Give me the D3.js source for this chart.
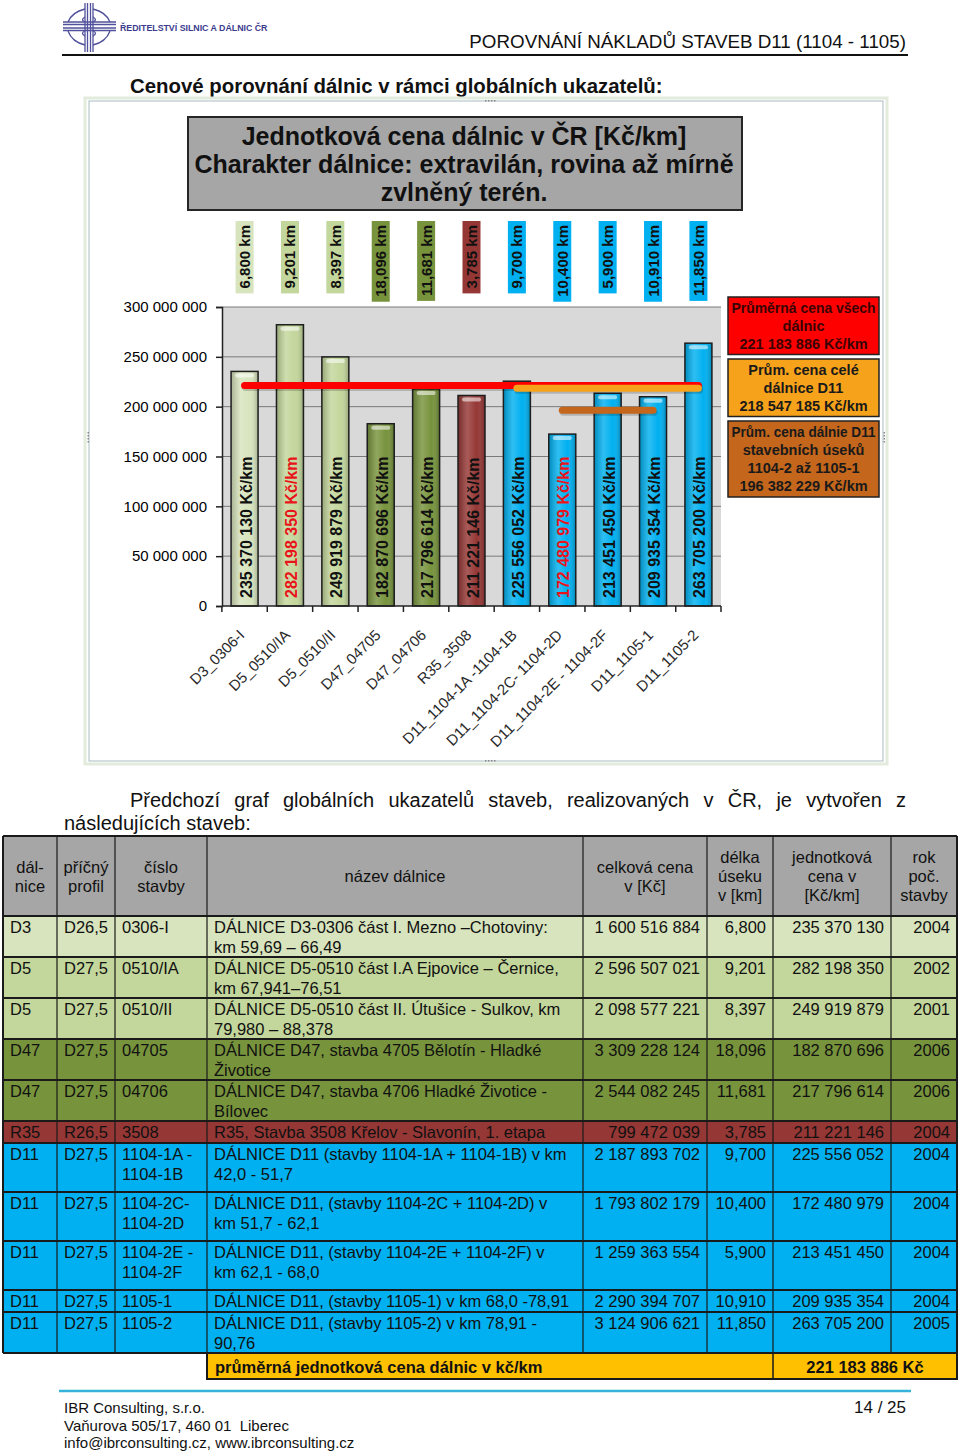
<!DOCTYPE html>
<html>
<head>
<meta charset="utf-8">
<script src="https://cdn.jsdelivr.net/npm/d3@7"></script>
<style>
body{margin:0;background:#fff}
svg{display:block;font-family:"Liberation Sans",Arial,sans-serif}
</style>
</head>
<body>
<script>
// --- chart data ---
var categories = ["D3_0306-I","D5_0510/IA","D5_0510/II","D47_04705","D47_04706","R35_3508",
  "D11_1104-1A -1104-1B","D11_1104-2C- 1104-2D","D11_1104-2E - 1104-2F","D11_1105-1","D11_1105-2"];
var unitPrices = [235370130,282198350,249919879,182870696,217796614,211221146,225556052,172480979,213451450,209935354,263705200];
var lengthsKm = [6.800,9.201,8.397,18.096,11.681,3.785,9.700,10.400,5.900,10.910,11.850];
var yTicks = [0,50000000,100000000,150000000,200000000,250000000,300000000];

var avgValues = [221183886,218547185,196382229];
var avgFrom = [0,6,7];
var avgTo = [10,10,9];
var avgLabels = [["Průměrná cena všech","dálnic"],["Prům. cena  celé","dálnice D11"],
  ["Prům. cena dálnie D11","stavebních úseků","1104-2 až 1105-1"]];

// --- table data ---
var roads = ["D3","D5","D5","D47","D47","R35","D11","D11","D11","D11","D11"];
var profiles = ["D26,5","D27,5","D27,5","D27,5","D27,5","R26,5","D27,5","D27,5","D27,5","D27,5","D27,5"];
var codes = ["0306-I","0510/IA","0510/II","04705","04706","3508","1104-1A -\n1104-1B","1104-2C-\n1104-2D","1104-2E -\n1104-2F","1105-1","1105-2"];
var names = ["DÁLNICE D3-0306 část I. Mezno –Chotoviny:\nkm 59,69 – 66,49",
  "DÁLNICE D5-0510 část I.A Ejpovice – Černice,\nkm 67,941–76,51",
  "DÁLNICE D5-0510 část II. Útušice - Sulkov, km\n79,980 – 88,378",
  "DÁLNICE D47, stavba 4705 Bělotín - Hladké\nŽivotice",
  "DÁLNICE D47, stavba 4706 Hladké Životice -\nBílovec",
  "R35, Stavba 3508 Křelov - Slavonín, 1. etapa",
  "DÁLNICE D11 (stavby 1104-1A + 1104-1B) v km\n42,0 - 51,7",
  "DÁLNICE D11, (stavby 1104-2C + 1104-2D) v\nkm 51,7 - 62,1",
  "DÁLNICE D11, (stavby 1104-2E + 1104-2F) v\nkm 62,1 - 68,0",
  "DÁLNICE D11, (stavby 1105-1) v km 68,0 -78,91",
  "DÁLNICE D11, (stavby 1105-2) v km 78,91 -\n90,76"];
var totalPrices = [1600516884,2596507021,2098577221,3309228124,2544082245,799472039,2187893702,1793802179,1259363554,2290394707,3124906621];
var years = [2004,2002,2001,2006,2006,2004,2004,2004,2004,2004,2005];
var headers = ["dál-\nnice","příčný\nprofil","číslo\nstavby","název dálnice","celková cena\nv [Kč]","délka\núseku\nv [km]","jednotková\ncena v\n[Kč/km]","rok\npoč.\nstavby"];

var roadColor = {D3:"#d7e4bd", D5:"#c3d69b", D47:"#77933c", R35:"#953735", D11:"#00b0f0"};
var avgColor = ["#ff0000","#f7a21b","#c4661c"];

var fmt = function(v){ return d3.format(",")(v).replace(/,/g," "); };
var fmtKm = function(v){ return d3.format(".3f")(v).replace(".",","); };

var svg = d3.select("body").append("svg").attr("width",960).attr("height",1452);
svg.append("rect").attr("width",960).attr("height",1452).attr("fill","#fff");

// --- page header ---
var logo = svg.append("g").attr("stroke","#50509c").attr("fill","none").attr("stroke-width",1.3);
[85,87.5,90.5,93].forEach(function(v){ logo.append("line").attr("x1",v).attr("x2",v).attr("y1",3).attr("y2",52); });
[22,24.5,28,30.5].forEach(function(v){ logo.append("line").attr("x1",63).attr("x2",116).attr("y1",v).attr("y2",v); });
logo.append("path").attr("d","M85,9 Q72,12 68,22 M93,9 Q106,12 110,22 M85,45 Q72,42 68,31 M93,45 Q106,42 110,31");
logo.append("path").attr("d","M85,17 Q80,20 85,22 M93,17 Q98,20 93,22 M85,36 Q80,33 85,31 M93,36 Q98,33 93,31");
svg.append("text").attr("x",120).attr("y",31).attr("font-size",8.8).attr("font-weight","bold")
  .attr("fill","#3b3b8e").text("ŘEDITELSTVÍ SILNIC A DÁLNIC ČR");
svg.append("text").attr("x",906).attr("y",48).attr("text-anchor","end").attr("font-size",18.8)
  .attr("fill","#111").text("POROVNÁNÍ NÁKLADŮ STAVEB D11 (1104 - 1105)");
svg.append("line").attr("x1",62).attr("x2",908).attr("y1",55).attr("y2",55).attr("stroke","#111").attr("stroke-width",2);
svg.append("text").attr("x",130).attr("y",93).attr("font-size",20.4).attr("font-weight","bold")
  .attr("fill","#111").text("Cenové porovnání dálnic v rámci globálních ukazatelů:");

// --- chart frame ---
svg.append("rect").attr("x",85).attr("y",98).attr("width",802).attr("height",666)
  .attr("fill","none").attr("stroke","#e2ebdc").attr("stroke-width",3);
svg.append("rect").attr("x",89).attr("y",101).attr("width",794).attr("height",660)
  .attr("fill","none").attr("stroke","#a9bcc2").attr("stroke-width",1);
[[485,101,1],[485,761,1],[884,432,0],[88,432,0]].forEach(function(p){
  for(var k=0;k<4;k++){
    svg.append("rect").attr("x",p[2]?p[0]+k*3:p[0]-0.5).attr("y",p[2]?p[1]-1:p[1]+k*3)
      .attr("width",1.5).attr("height",1.5).attr("fill","#888");
  }
});

// --- chart title box ---
svg.append("rect").attr("x",188).attr("y",117).attr("width",554).attr("height",93)
  .attr("fill","#a6a6a6").attr("stroke","#262626").attr("stroke-width",2);
var titleLines = ["Jednotková cena dálnic v ČR [Kč/km]","Charakter dálnice: extravilán, rovina až mírně","zvlněný terén."];
titleLines.forEach(function(t,i){
  svg.append("text").attr("x",464).attr("y",145+i*28).attr("text-anchor","middle")
    .attr("font-size",25).attr("font-weight","bold").attr("fill","#111").text(t);
});

// --- scales ---
var x = d3.scaleBand().domain(categories).range([222,721]).paddingInner(0.405).paddingOuter(0.2);
var y = d3.scaleLinear().domain([0,300000000]).range([606,307]);
var cx = function(i){ return x(categories[i]) + x.bandwidth()/2; };

// plot background + grid
svg.append("rect").attr("x",222).attr("y",y(300000000)).attr("width",499).attr("height",y(0)-y(300000000)).attr("fill","#d9d9d9");
svg.append("g").selectAll("line").data(yTicks.filter(function(d){return d>0;})).join("line")
  .attr("x1",222).attr("x2",721).attr("y1",function(d){return y(d);}).attr("y2",function(d){return y(d);})
  .attr("stroke","#7a7a7a").attr("stroke-width",1);

// y axis
var yAxis = svg.append("g").attr("transform","translate(222,0)")
  .call(d3.axisLeft(y).tickValues(yTicks).tickFormat(fmt).tickSize(6).tickPadding(9));
yAxis.select(".domain").attr("stroke","#222").attr("stroke-width",1.5);
yAxis.selectAll(".tick line").attr("stroke","#222").attr("stroke-width",1.5);
yAxis.selectAll("text").attr("font-size",15).attr("fill","#000").attr("font-family","Liberation Sans, Arial, sans-serif");

// bar shading
var defs = svg.append("defs");
var grad = defs.append("linearGradient").attr("id","shade").attr("x1","0").attr("x2","1");
grad.append("stop").attr("offset","0").attr("stop-color","#000").attr("stop-opacity",0.22);
grad.append("stop").attr("offset","0.35").attr("stop-color","#fff").attr("stop-opacity",0.18);
grad.append("stop").attr("offset","0.7").attr("stop-color","#fff").attr("stop-opacity",0.0);
grad.append("stop").attr("offset","1").attr("stop-color","#000").attr("stop-opacity",0.25);

var bars = svg.append("g").selectAll("g").data(unitPrices).join("g");
bars.append("rect").attr("x",function(d,i){return x(categories[i]);}).attr("y",function(d){return y(d);})
  .attr("width",x.bandwidth()).attr("height",function(d){return y(0)-y(d);})
  .attr("fill",function(d,i){return roadColor[roads[i]];});
bars.append("rect").attr("x",function(d,i){return x(categories[i]);}).attr("y",function(d){return y(d);})
  .attr("width",x.bandwidth()).attr("height",function(d){return y(0)-y(d);})
  .attr("fill","url(#shade)").attr("stroke","#1e1e1e").attr("stroke-width",1.5);
bars.append("rect").attr("x",function(d,i){return x(categories[i])+4;}).attr("y",function(d){return y(d)+2;})
  .attr("width",x.bandwidth()-8).attr("height",4).attr("rx",2).attr("fill","#fff").attr("opacity",0.55);

// value labels inside bars (max and min in red)
var maxV = d3.max(unitPrices), minV = d3.min(unitPrices);
bars.append("text")
  .attr("transform",function(d,i){return "translate("+(cx(i)+7)+",598) rotate(-90)";})
  .attr("font-size",16).attr("font-weight","bold")
  .attr("fill",function(d){return (d===maxV||d===minV)?"#e8141a":"#111";})
  .text(function(d){return fmt(d)+" Kč/km";});

// length labels above plot
var lenG = svg.append("g").selectAll("g").data(lengthsKm).join("g");
lenG.each(function(d,i){
  var g = d3.select(this);
  var t = g.append("text").attr("transform","translate("+(cx(i)+5.5)+",225) rotate(-90)")
    .attr("text-anchor","end").attr("font-size",15).attr("font-weight","bold").attr("fill","#111")
    .text(fmtKm(d)+" km");
  var len = t.node().getComputedTextLength();
  g.insert("rect","text").attr("x",cx(i)-9).attr("y",221).attr("width",18).attr("height",len+9)
    .attr("fill",roadColor[roads[i]]);
});

// x ticks and labels
var bounds = categories.map(function(c){return x(c)-x.step()*x.paddingInner()/2;}).concat([721]);
svg.append("line").attr("x1",222).attr("x2",721).attr("y1",606).attr("y2",606).attr("stroke","#222").attr("stroke-width",1.5);
svg.append("g").selectAll("line").data(bounds).join("line")
  .attr("x1",function(d){return d;}).attr("x2",function(d){return d;}).attr("y1",606).attr("y2",612)
  .attr("stroke","#222").attr("stroke-width",1.5);
svg.append("g").selectAll("text").data(categories).join("text")
  .attr("transform",function(d,i){return "translate("+(cx(i)+1)+",636) rotate(-45)";})
  .attr("text-anchor","end").attr("font-size",15).attr("fill","#2a2a2a").text(function(d){return d;});

// average lines
avgValues.forEach(function(v,k){
  var x1 = cx(avgFrom[k]), x2 = cx(avgTo[k]);
  svg.append("line").attr("x1",x1+1).attr("x2",x2+1).attr("y1",y(v)+2).attr("y2",y(v)+2)
    .attr("stroke","#000").attr("stroke-opacity",0.18).attr("stroke-width",7).attr("stroke-linecap","round");
  svg.append("line").attr("x1",x1).attr("x2",x2).attr("y1",y(v)).attr("y2",y(v))
    .attr("stroke",avgColor[k]).attr("stroke-width",7).attr("stroke-linecap","round");
});

// legend boxes
var by = 297;
avgValues.forEach(function(v,k){
  var lines = avgLabels[k].concat([fmt(v)+(k===0?"  Kč/km":" Kč/km")]);
  var h = lines.length*18.5+2;
  svg.append("rect").attr("x",728).attr("y",by).attr("width",151).attr("height",h)
    .attr("fill",avgColor[k]).attr("stroke","#222").attr("stroke-width",1.5);
  lines.forEach(function(t,j){
    var tx = svg.append("text").attr("x",803.5).attr("y",by+16+j*18).attr("text-anchor","middle")
      .attr("font-size",14.5).attr("font-weight","bold").attr("fill",k===0?"#3a0404":"#1a1a1a").text(t);
    var l = tx.node().getComputedTextLength();
    if(l>144) tx.attr("textLength",144).attr("lengthAdjust","spacingAndGlyphs");
  });
  by += h+4.5;
});

// --- paragraph ---
var pWords = "Předchozí graf globálních ukazatelů staveb, realizovaných v ČR, je vytvořen z".split(" ");
var tmp = pWords.map(function(w){
  return svg.append("text").attr("y",807).attr("font-size",20).attr("fill","#111").text(w);
});
var wsum = d3.sum(tmp,function(t){return t.node().getComputedTextLength();});
var gap = (906-130-wsum)/(pWords.length-1), px = 130;
tmp.forEach(function(t){ t.attr("x",px); px += t.node().getComputedTextLength()+gap; });
svg.append("text").attr("x",64).attr("y",830).attr("font-size",20).attr("fill","#111").text("následujících staveb:");

// --- table ---
var colX = [3,57,115,207,583,707,773,891,957];
var tb = svg.append("g").attr("font-size",16.5).attr("fill","#111");
tb.append("rect").attr("x",3).attr("y",836).attr("width",954).attr("height",80).attr("fill","#a6a6a6");
headers.forEach(function(hd,c){
  var ls = hd.split("\n");
  ls.forEach(function(t,j){
    tb.append("text").attr("x",(colX[c]+colX[c+1])/2).attr("y",882+(j-(ls.length-1)/2)*19)
      .attr("text-anchor","middle").attr("fill","#111").text(t);
  });
});
var ry = 916, rowTops = [];
roads.forEach(function(r,i){
  var nl = Math.max(names[i].split("\n").length, codes[i].split("\n").length);
  var h = nl*19 + 3 + (codes[i].indexOf("\n")>=0 ? 8 : 0);
  rowTops.push(ry);
  tb.append("rect").attr("x",3).attr("y",ry).attr("width",954).attr("height",h).attr("fill",roadColor[r]);
  var cells = [r, profiles[i], codes[i], names[i], fmt(totalPrices[i]), fmtKm(lengthsKm[i]), fmt(unitPrices[i]), String(years[i])];
  cells.forEach(function(v,c){
    var right = c>=4;
    v.split("\n").forEach(function(t,j){
      tb.append("text").attr("x",right?colX[c+1]-7:colX[c]+7).attr("y",ry+17+j*20)
        .attr("text-anchor",right?"end":"start").attr("fill","#111").text(t);
    });
  });
  ry += h;
});
rowTops.push(ry);
// grid lines
rowTops.forEach(function(t){
  tb.append("line").attr("x1",3).attr("x2",957).attr("y1",t).attr("y2",t).attr("stroke","#1a1a1a").attr("stroke-width",2);
});
tb.append("line").attr("x1",3).attr("x2",957).attr("y1",836).attr("y2",836).attr("stroke","#1a1a1a").attr("stroke-width",2);
colX.forEach(function(c,k){
  tb.append("line").attr("x1",c).attr("x2",c).attr("y1",836).attr("y2",ry)
    .attr("stroke","#1a1a1a").attr("stroke-width",(k===0||k===colX.length-1)?2:1.2);
});
// summary row
tb.append("rect").attr("x",207).attr("y",ry).attr("width",750).attr("height",26)
  .attr("fill","#ffc000").attr("stroke","#1a1a1a").attr("stroke-width",2);
tb.append("line").attr("x1",773).attr("x2",773).attr("y1",ry).attr("y2",ry+26).attr("stroke","#1a1a1a").attr("stroke-width",1.5);
tb.append("text").attr("x",215).attr("y",ry+20).attr("font-weight","bold").attr("fill","#111")
  .text("průměrná jednotková cena dálnic v kč/km");
tb.append("text").attr("x",865).attr("y",ry+20).attr("text-anchor","middle").attr("font-weight","bold").attr("fill","#111")
  .text(fmt(avgValues[0])+" Kč");

// --- footer ---
svg.append("line").attr("x1",59).attr("x2",911).attr("y1",1391).attr("y2",1391).attr("stroke","#35b2da").attr("stroke-width",2.5);
["IBR Consulting, s.r.o.","Vaňurova 505/17, 460 01  Liberec","info@ibrconsulting.cz, www.ibrconsulting.cz"].forEach(function(t,i){
  svg.append("text").attr("x",64).attr("y",1413+i*17.5).attr("font-size",15).attr("fill","#111").style("white-space","pre").text(t);
});
svg.append("text").attr("x",906).attr("y",1413).attr("text-anchor","end").attr("font-size",17).attr("fill","#111").text("14 / 25");
</script>
</body>
</html>
